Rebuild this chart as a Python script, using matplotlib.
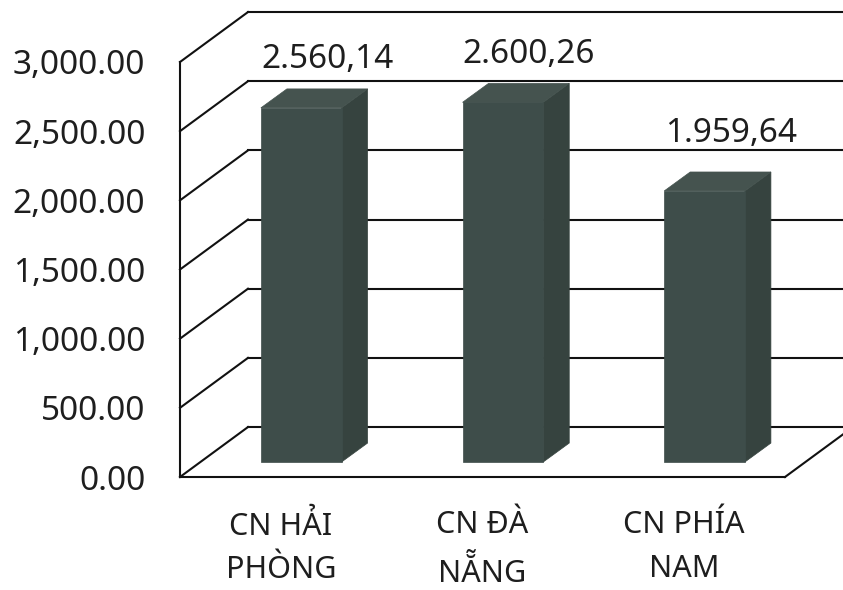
import matplotlib.pyplot as plt
from matplotlib.patches import Polygon

# data
branches = ['CN HẢI\nPHÒNG', 'CN ĐÀ\nNẴNG', 'CN PHÍA\nNAM']
values = [2560.14, 2600.26, 1959.64]
yticks = [0, 500, 1000, 1500, 2000, 2500, 3000]

plt.rcParams['font.family'] = ['Noto Sans', 'DejaVu Sans']
txt = '#1e1e1e'

fig = plt.figure(figsize=(8.43, 5.90), dpi=100)
ax = fig.add_axes([180/843, 113/590, 605/843, 415/590])
ax.set_xlim(-0.5, 2.5)
ax.set_ylim(0, 3000)

# fake 3d: depth of the walls and of the bars, in data units
DX, DY = 0.337, 361
bw, bdx, bdy = 0.40, 0.129, 137
front = 0.3   # where the bars sit in the depth

lk = dict(color='#111111', lw=1.5, clip_on=False, zorder=1)
x_left, x_right = -0.5, 2.5
for t in yticks:
    # back wall gridline and left wall slant
    ax.plot([x_left + DX, x_right + DX + 0.2], [t + DY, t + DY], **lk)
    ax.plot([x_left, x_left + DX], [t, t + DY], **lk)
ax.plot([x_left, x_left], [0, yticks[-1]], **lk)
ax.plot([x_left, x_right], [0, 0], **lk)
ax.plot([x_right, x_right + DX], [0, DY], **lk)

c_front, c_side, c_top = '#3e4d4a', '#36433f', '#45534f'
offs = [21, 21, 28]   # label offsets in points
for i, v in enumerate(values):
    x0 = i - bw/2 + front*DX
    y0 = front*DY
    fr = [(x0, y0), (x0 + bw, y0), (x0 + bw, y0 + v), (x0, y0 + v)]
    sd = [(x0 + bw, y0), (x0 + bw + bdx, y0 + bdy), (x0 + bw + bdx, y0 + bdy + v), (x0 + bw, y0 + v)]
    tp = [(x0, y0 + v), (x0 + bdx, y0 + v + bdy), (x0 + bw + bdx, y0 + v + bdy), (x0 + bw, y0 + v)]
    for pts, col in [(sd, c_side), (tp, c_top), (fr, c_front)]:
        ax.add_patch(Polygon(pts, closed=True, facecolor=col, edgecolor=col, lw=0.5, zorder=3, clip_on=False))
    lab = f'{v:,.2f}'.replace(',', 'X').replace('.', ',').replace('X', '.')
    ax.annotate(lab, xy=(x0 + bw/2 + bdx, y0 + v + bdy), xytext=(0, offs[i]),
                textcoords='offset points', ha='center', va='center',
                fontsize=24, color=txt, zorder=4)

ax.set_yticks(yticks)
ax.set_yticklabels([f'{t:,.2f}' for t in yticks], fontsize=24, color=txt)
ax.set_xticks(range(len(branches)))
ax.set_xticklabels(branches, fontsize=22, color=txt, linespacing=1.6)
ax.tick_params(axis='y', length=0, pad=25)
ax.tick_params(axis='x', length=0, pad=24)
for s in ax.spines.values():
    s.set_visible(False)
ax.patch.set_visible(False)

fig.savefig('out.png', dpi=100)
